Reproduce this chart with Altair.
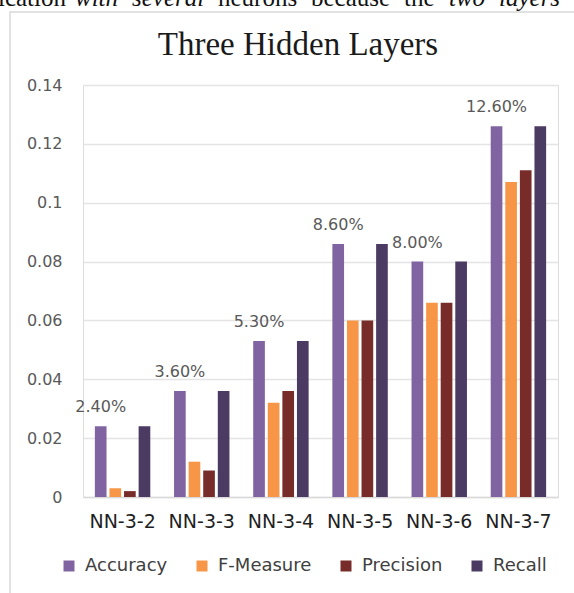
import altair as alt
import pandas as pd

# Error rates of the three-hidden-layer networks
models = ["NN-3-2", "NN-3-3", "NN-3-4", "NN-3-5", "NN-3-6", "NN-3-7"]
metrics = ["Accuracy", "F-Measure", "Precision", "Recall"]
accuracy = [0.024, 0.036, 0.053, 0.086, 0.080, 0.126]
f_measure = [0.003, 0.012, 0.032, 0.060, 0.066, 0.107]
precision = [0.002, 0.009, 0.036, 0.060, 0.066, 0.111]
recall = [0.024, 0.036, 0.053, 0.086, 0.080, 0.126]
colors = ["#8064A2", "#F79646", "#772C2A", "#4B3A62"]
y_ticks = [0, 0.02, 0.04, 0.06, 0.08, 0.10, 0.12, 0.14]

rows = []
for name, series in zip(metrics, [accuracy, f_measure, precision, recall]):
    for m, v in zip(models, series):
        rows.append({"model": m, "metric": name, "value": v})
df = pd.DataFrame(rows)

SANS = "DejaVu Sans"
SERIF = "Liberation Serif"

x_enc = alt.X(
    "model:N",
    sort=models,
    title=None,
    scale=alt.Scale(paddingInner=0.3, paddingOuter=0.15),
    axis=alt.Axis(
        labelAngle=0,
        labelFont=SANS,
        labelFontSize=19,
        labelColor="#1f1f1f",
        labelPadding=15,
        ticks=False,
        domainColor="#d9d9d9",
        domainWidth=1.5,
        grid=False,
    ),
)
xoff_enc = alt.XOffset("metric:N", sort=metrics, scale=alt.Scale(paddingInner=0.2, paddingOuter=0))
y_enc = alt.Y(
    "value:Q",
    title=None,
    scale=alt.Scale(domain=[0, 0.14], nice=False),
    axis=alt.Axis(
        values=y_ticks,
        format="~g",
        labelFont=SANS,
        labelFontSize=16,
        labelColor="#595959",
        labelPadding=21,
        ticks=False,
        domain=False,
        gridColor="#e4e4e4",
        gridWidth=1.5,
    ),
)

base = alt.Chart(df)

bars = base.mark_bar().encode(
    x=x_enc,
    xOffset=xoff_enc,
    y=y_enc,
    color=alt.Color(
        "metric:N",
        sort=metrics,
        scale=alt.Scale(domain=metrics, range=colors),
        legend=alt.Legend(
            title=None,
            orient="none",
            legendX=-23,
            legendY=472,
            direction="horizontal",
            symbolType="square",
            symbolSize=121,
            symbolStrokeWidth=0,
            labelFont=SANS,
            labelFontSize=18,
            labelColor="#404040",
            labelOffset=7,
            columnPadding=25,
        ),
    ),
)

labels = base.transform_filter(alt.datum.metric == "Accuracy").mark_text(
    baseline="alphabetic", dy=-14, font=SANS, fontSize=16, color="#595959"
).encode(
    x=alt.X("model:N", sort=models),
    xOffset=alt.XOffset("metric:N", sort=metrics),
    y="value:Q",
    text=alt.Text("value:Q", format=".2%"),
)

one = alt.Data(values=[{}])

frame = alt.Chart(one).mark_rect(fill=None, stroke="#d9d9d9", strokeWidth=1.5).encode(
    x=alt.value(-73), x2=alt.value(620), y=alt.value(-73), y2=alt.value(640)
)

heading = alt.Chart(one).mark_text(
    align="center", baseline="alphabetic", font=SERIF, fontSize=33, color="#1a1a1a"
).encode(
    x=alt.value(215), y=alt.value(-30), text=alt.value("Three Hidden Layers")
)


def body_word(text, left, italic=False, align="left"):
    return alt.Chart(one).mark_text(
        align=align, baseline="alphabetic", font=SERIF, fontSize=25,
        fontStyle="italic" if italic else "normal", color="#111111"
    ).encode(x=alt.value(left), y=alt.value(-79), text=alt.value(text))


# justified running line of body text sitting above the figure frame
sentence = [
    body_word("classification", -17, align="right"),
    body_word("with", -8, italic=True),
    body_word("several", 49, italic=True),
    body_word("neurons", 135),
    body_word("because", 228),
    body_word("the", 321),
    body_word("two", 366, italic=True),
    body_word("layers", 416, italic=True),
]

chart = (
    alt.layer(frame, *sentence, heading, bars, labels)
    .properties(
        width=475,
        height=412,
        autosize=alt.AutoSizeParams(type="none"),
        padding={"left": 83, "top": 85, "right": 16, "bottom": 96},
    )
    .configure_view(stroke=None)
    .configure(background="white")
)

chart.save("out.html", embed_options={"renderer": "svg", "actions": False})
